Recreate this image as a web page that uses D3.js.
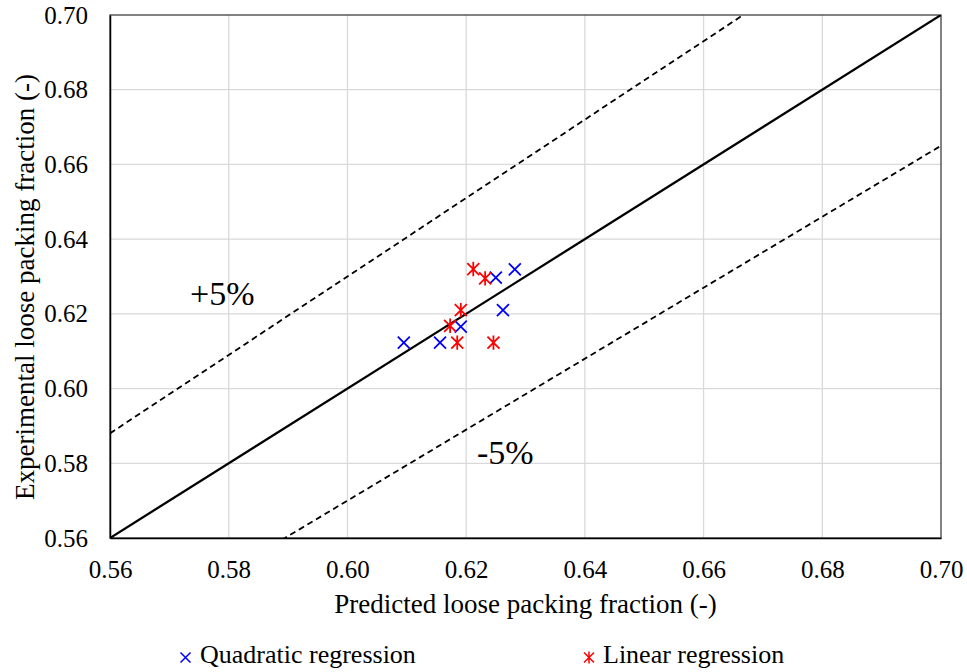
<!DOCTYPE html>
<html>
<head>
<meta charset="utf-8">
<script src="https://cdn.jsdelivr.net/npm/d3@7"></script>
<style>
  body { margin: 0; background: #fff; }
  svg, svg text { font-family: "Liberation Serif", "Times New Roman", serif; }
  svg { display: block; }
</style>
</head>
<body>
<svg id="chart" width="967" height="672"></svg>
<script>
// Predicted vs. experimental loose packing fraction
const ticks = [0.56, 0.58, 0.60, 0.62, 0.64, 0.66, 0.68, 0.70];

const quadPred = [0.6095, 0.6156, 0.6191, 0.6262, 0.6250, 0.6282];
const quadExp  = [0.6123, 0.6123, 0.6166, 0.6210, 0.6297, 0.6319];

const linPred  = [0.6212, 0.6232, 0.6191, 0.6173, 0.6185, 0.6246];
const linExp   = [0.6320, 0.6295, 0.6210, 0.6168, 0.6123, 0.6123];

const refLines = [
  { factor: 1.00, dash: null },
  { factor: 1.05, dash: "6,4" },
  { factor: 0.95, dash: "6,4" }
];

const svg = d3.select("#chart");
const m = { left: 110, top: 15, right: 941, bottom: 538 };
const x = d3.scaleLinear().domain([0.56, 0.70]).range([m.left, m.right]);
const y = d3.scaleLinear().domain([0.56, 0.70]).range([m.bottom, m.top]);

// gridlines
svg.append("g").selectAll("line").data(ticks.slice(1, -1)).join("line")
  .attr("x1", d => x(d)).attr("x2", d => x(d))
  .attr("y1", m.top).attr("y2", m.bottom)
  .attr("stroke", "#d9d9d9").attr("stroke-width", 1.3);
svg.append("g").selectAll("line").data(ticks.slice(1, -1)).join("line")
  .attr("y1", d => y(d)).attr("y2", d => y(d))
  .attr("x1", m.left).attr("x2", m.right)
  .attr("stroke", "#d9d9d9").attr("stroke-width", 1.3);

// plot frame
svg.append("rect")
  .attr("x", m.left).attr("y", m.top)
  .attr("width", m.right - m.left).attr("height", m.bottom - m.top)
  .attr("fill", "none").attr("stroke", "#404040").attr("stroke-width", 1.3);

// reference lines y = k·x, clipped to the plot area
svg.append("clipPath").attr("id", "clip").append("rect")
  .attr("x", m.left).attr("y", m.top)
  .attr("width", m.right - m.left).attr("height", m.bottom - m.top);
const refG = svg.append("g").attr("clip-path", "url(#clip)");
refLines.forEach(r => {
  refG.append("line")
    .attr("x1", x(0.56)).attr("y1", y(0.56 * r.factor))
    .attr("x2", x(0.70)).attr("y2", y(0.70 * r.factor))
    .attr("stroke", "#000")
    .attr("stroke-width", r.dash ? 1.8 : 2.3)
    .attr("stroke-dasharray", r.dash);
});

// axes
const xAxis = d3.axisBottom(x).tickValues(ticks).tickFormat(d3.format(".2f")).tickSize(0).tickPadding(17);
const yAxis = d3.axisLeft(y).tickValues(ticks).tickFormat(d3.format(".2f")).tickSize(0).tickPadding(22);
const gx = svg.append("g").attr("transform", `translate(0,${m.bottom})`).call(xAxis);
const gy = svg.append("g").attr("transform", `translate(${m.left},0)`).call(yAxis);
[gx, gy].forEach(g => {
  g.attr("font-family", null).attr("font-size", null);
  g.select(".domain").attr("stroke", "#000").attr("stroke-width", 1.5);
  g.selectAll("text").style("font-size", "25px").attr("fill", "#000");
});
gx.selectAll("text").attr("dy", "0.9em");

// axis titles
svg.append("text")
  .attr("x", (m.left + m.right) / 2).attr("y", 613)
  .attr("text-anchor", "middle").attr("font-size", 27)
  .text("Predicted loose packing fraction (-)");
svg.append("text")
  .attr("transform", "translate(34,287) rotate(-90)")
  .attr("text-anchor", "middle").attr("font-size", 27)
  .text("Experimental loose packing fraction (-)");

// band labels
svg.append("text").attr("x", 190).attr("y", 305).attr("font-size", 34).text("+5%");
svg.append("text").attr("x", 477).attr("y", 464).attr("font-size", 34).text("-5%");

// markers
const cross = (g, cx, cy, s, color, w) => {
  g.append("path")
    .attr("d", `M${cx - s},${cy - s}L${cx + s},${cy + s}M${cx - s},${cy + s}L${cx + s},${cy - s}`)
    .attr("stroke", color).attr("stroke-width", w).attr("fill", "none");
};
const star = (g, cx, cy, s, color, w) => {
  g.append("path")
    .attr("d", `M${cx - s},${cy - s}L${cx + s},${cy + s}M${cx - s},${cy + s}L${cx + s},${cy - s}M${cx},${cy - s * 1.2}L${cx},${cy + s * 1.2}`)
    .attr("stroke", color).attr("stroke-width", w).attr("fill", "none");
};
const pts = svg.append("g");
quadPred.forEach((p, i) => cross(pts, x(p), y(quadExp[i]), 6, "#0000ff", 1.8));
linPred.forEach((p, i) => star(pts, x(p), y(linExp[i]), 6, "#ff0000", 1.8));

// legend
const leg = svg.append("g");
cross(leg, 185.5, 657.5, 5, "#0000ff", 1.5);
leg.append("text").attr("x", 200).attr("y", 663).attr("font-size", 26).text("Quadratic regression");
star(leg, 589, 657.5, 5, "#ff0000", 1.5);
leg.append("text").attr("x", 603).attr("y", 663).attr("font-size", 26).text("Linear regression");
</script>
</body>
</html>
